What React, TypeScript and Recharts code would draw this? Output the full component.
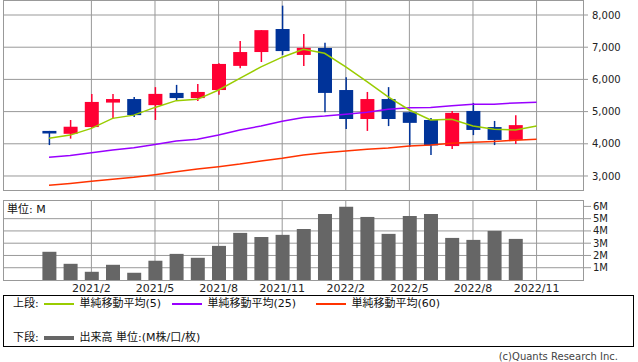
import { Bar, CartesianGrid, ComposedChart, Line, XAxis, YAxis } from "recharts";

// month index 0 = 2020/12 ... 23 = 2022/11
const tickIdx = [2, 5, 8, 11, 14, 17, 20, 23];
const tickLabels = ["2021/2", "2021/5", "2021/8", "2021/11", "2022/2", "2022/5", "2022/8", "2022/11"];

const openVals = [4400, 4310, 4520, 5280, 5390, 5200, 5580, 5420, 5670, 6420, 6850, 7565, 6760, 6975, 5670, 4770, 5390, 4980, 4740, 3930, 5020, 4520, 4120];
const closeVals = [4320, 4530, 5300, 5390, 4890, 5550, 5420, 5610, 6480, 6850, 7530, 6880, 6980, 5580, 4770, 5390, 4770, 4650, 3950, 4960, 4430, 4120, 4580];
const highVals = [4400, 4740, 5550, 5550, 5450, 5760, 5830, 5860, 6500, 7190, 7530, 8290, 7410, 7140, 6070, 5610, 5760, 4990, 4800, 5020, 5270, 4710, 4890];
const lowVals = [3960, 4160, 4500, 4790, 4830, 4740, 5330, 5330, 5520, 6350, 6540, 6760, 6420, 4980, 4460, 4400, 4550, 3900, 3650, 3840, 4270, 3960, 3990];

const volumes = [2.3, 1.32, 0.67, 1.24, 0.59, 1.57, 2.13, 1.81, 2.78, 3.84, 3.51, 3.68, 4.16, 5.38, 5.97, 5.14, 3.76, 5.22, 5.38, 3.43, 3.27, 4.0, 3.35];

const ma5 = [4170, 4270, 4480, 4790, 4890, 5130, 5340, 5380, 5670, 6030, 6390, 6690, 6935, 6810, 6390, 5930, 5460, 5050, 4740, 4760, 4550, 4450, 4430, 4550];
const ma25 = [3580, 3640, 3720, 3810, 3880, 3980, 4090, 4140, 4270, 4430, 4550, 4700, 4820, 4860, 4920, 4980, 5070, 5120, 5130, 5180, 5230, 5230, 5270, 5290];
const ma60 = [2710, 2770, 2835, 2900, 2960, 3040, 3130, 3220, 3290, 3370, 3465, 3550, 3650, 3720, 3775, 3830, 3870, 3930, 3960, 4015, 4045, 4075, 4110, 4140];

const priceTicks = [3000, 4000, 5000, 6000, 7000, 8000];
const volTicks = [1, 2, 3, 4, 5, 6];

const RED = "#ff0033";
const BLUE = "#003399";
const GRID = "#999";
const X_DOMAIN: [number, number] = [-2.17, 25.19];

const rows = ma5.map((m, i) => ({
  i,
  open: openVals[i] ?? null,
  close: closeVals[i] ?? null,
  high: highVals[i] ?? null,
  low: lowVals[i] ?? null,
  vol: volumes[i] ?? null,
  ma5: m,
  ma25: ma25[i],
  ma60: ma60[i],
}));

function Candle(props: any) {
  const { x, y, width, height, payload } = props;
  if (payload.open == null || !height) return null;
  const { open, close, high, low } = payload;
  const top = Math.min(y, y + height);
  const h = Math.abs(height);
  const k = h / (high - low);
  const py = (v: number) => top + (high - v) * k;
  const color = close >= open ? RED : BLUE;
  const b1 = py(Math.max(open, close));
  const b2 = py(Math.min(open, close));
  const cx = x + width / 2;
  return (
    <g>
      <line x1={cx} x2={cx} y1={top} y2={top + h} stroke={color} strokeWidth={1.5} />
      <rect x={x} y={b1} width={width} height={Math.max(1, b2 - b1)} fill={color} />
    </g>
  );
}

const tickStyle = { fill: "#222", fontSize: 10, fontFamily: "DejaVu Sans" };

function LegendLine({ color, w = 1.5 }: { color: string; w?: number }) {
  return <span style={{ display: "inline-block", width: 30, height: w, background: color, verticalAlign: "middle" }} />;
}

export default function App() {
  return (
    <div style={{ position: "absolute", left: 0, top: 0, width: 638, height: 362, background: "#fff", fontFamily: "'DejaVu Sans', 'Noto Sans CJK JP'", color: "#111" }}>
      <div style={{ position: "absolute", left: 0, top: 0 }}>
        <ComposedChart width={638} height={192} data={rows} margin={{ top: 1, right: 0, bottom: 2, left: 3 }}>
          <CartesianGrid stroke={GRID} verticalValues={tickIdx} horizontalValues={priceTicks} />
          <XAxis dataKey="i" type="number" domain={X_DOMAIN} ticks={tickIdx} allowDataOverflow hide />
          <YAxis
            orientation="right"
            width={55}
            domain={[2565, 8435]}
            ticks={priceTicks}
            interval={0}
            allowDataOverflow
            axisLine={false}
            tickSize={5}
            tickMargin={4}
            tickLine={{ stroke: GRID }}
            tick={tickStyle}
            tickFormatter={(v) => v.toLocaleString("en-US")}
          />
          <Bar dataKey={(d: any) => (d.high == null ? null : [d.low, d.high])} barSize={14} shape={<Candle />} isAnimationActive={false} />
          <Line dataKey="ma60" stroke="#ff3300" strokeWidth={1.5} dot={false} isAnimationActive={false} />
          <Line dataKey="ma25" stroke="#9900ff" strokeWidth={1.5} dot={false} isAnimationActive={false} />
          <Line dataKey="ma5" stroke="#99cc00" strokeWidth={1.5} dot={false} isAnimationActive={false} />
        </ComposedChart>
      </div>
      <div style={{ position: "absolute", left: 3, top: 0, width: 581, height: 191, border: `1px solid ${GRID}`, boxSizing: "border-box" }} />

      <div style={{ position: "absolute", left: 0, top: 195 }}>
        <ComposedChart width={638} height={100} data={rows} margin={{ top: 6, right: 0, bottom: 0, left: 3 }}>
          <CartesianGrid stroke={GRID} verticalValues={tickIdx} horizontalValues={[1, 2, 3, 4, 5]} />
          <XAxis
            dataKey="i"
            type="number"
            domain={X_DOMAIN}
            ticks={tickIdx}
            interval={0}
            allowDataOverflow
            height={15}
            axisLine={false}
            tickLine={false}
            tickSize={0}
            tickMargin={4}
            tick={{ ...tickStyle, fontSize: 11 }}
            tickFormatter={(v) => tickLabels[tickIdx.indexOf(v)] ?? ""}
          />
          <YAxis
            orientation="right"
            width={55}
            domain={[0, 6.44]}
            ticks={volTicks}
            interval={0}
            allowDataOverflow
            axisLine={false}
            tickSize={8}
            tickMargin={2}
            tickLine={{ stroke: GRID }}
            tick={tickStyle}
            tickFormatter={(v) => `${v}M`}
          />
          <Bar dataKey="vol" barSize={14} fill="#666" isAnimationActive={false} />
        </ComposedChart>
      </div>
      <div style={{ position: "absolute", left: 3, top: 200, width: 581, height: 81, border: `1px solid ${GRID}`, boxSizing: "border-box" }} />
      <div style={{ position: "absolute", left: 7, top: 203, fontSize: 11, lineHeight: "14px" }}>単位: M</div>

      <div style={{ position: "absolute", left: 3, top: 295, width: 631, height: 52, border: "1px solid #000", boxSizing: "border-box", fontSize: 11 }}>
        <div style={{ position: "absolute", left: 9, top: 1, lineHeight: "14px" }}>上段:</div>
        <div style={{ position: "absolute", left: 40, top: 1, lineHeight: "14px", whiteSpace: "nowrap" }}>
          <LegendLine color="#99cc00" /> <span style={{ marginLeft: 2 }}>単純移動平均(5)</span>
        </div>
        <div style={{ position: "absolute", left: 168, top: 1, lineHeight: "14px", whiteSpace: "nowrap" }}>
          <LegendLine color="#9900ff" /> <span style={{ marginLeft: 2 }}>単純移動平均(25)</span>
        </div>
        <div style={{ position: "absolute", left: 312, top: 1, lineHeight: "14px", whiteSpace: "nowrap" }}>
          <LegendLine color="#ff3300" /> <span style={{ marginLeft: 2 }}>単純移動平均(60)</span>
        </div>
        <div style={{ position: "absolute", left: 9, top: 35, lineHeight: "14px" }}>下段:</div>
        <div style={{ position: "absolute", left: 40, top: 35, lineHeight: "14px", whiteSpace: "nowrap" }}>
          <LegendLine color="#666" w={4} /> <span style={{ marginLeft: 2 }}>出来高 単位:(M株/口/枚)</span>
        </div>
      </div>
      <div style={{ position: "absolute", right: 20, top: 350, fontSize: 10, color: "#444", lineHeight: "14px" }}>(c)Quants Research Inc.</div>
    </div>
  );
}
